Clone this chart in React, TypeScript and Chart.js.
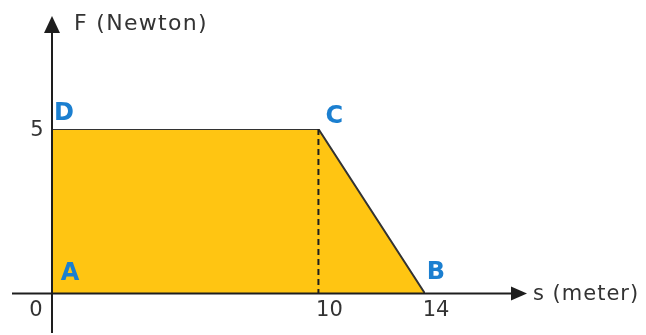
import React, { useEffect, useRef } from "react";
import { Chart, registerables } from "chart.js";

Chart.register(...registerables);

const sValues = [0, 0, 10, 14];
const fValues = [0, 5, 5, 0];
const pointNames = ["A", "D", "C", "B"];
const dashX = [10, 10];
const dashY = [5, 0];
const xTicks = [0, 10, 14];
const yTicks = [5];
const xAxisTitle = "s (meter)";
const yAxisTitle = "F (Newton)";

const labelOffsets: Record<string, [number, number]> = {
  A: [18, -20],
  D: [12, -15],
  C: [16, -12],
  B: [11, -21],
};

const axesPlugin = {
  id: "axesPlugin",
  afterDatasetsDraw(chart: any) {
    const ctx = chart.ctx as CanvasRenderingContext2D;
    const xs = chart.scales.x;
    const ys = chart.scales.y;
    const x0 = xs.getPixelForValue(0);
    const y0 = ys.getPixelForValue(0);
    ctx.save();
    ctx.strokeStyle = "#1e1e1e";
    ctx.fillStyle = "#1e1e1e";
    ctx.lineWidth = 2;
    // x axis
    ctx.beginPath();
    ctx.moveTo(12, y0);
    ctx.lineTo(513, y0);
    ctx.stroke();
    ctx.beginPath();
    ctx.moveTo(527, y0);
    ctx.lineTo(511, y0 - 7);
    ctx.lineTo(511, y0 + 7);
    ctx.closePath();
    ctx.fill();
    // y axis
    ctx.beginPath();
    ctx.moveTo(x0, 333);
    ctx.lineTo(x0, 32);
    ctx.stroke();
    ctx.beginPath();
    ctx.moveTo(x0, 16);
    ctx.lineTo(x0 - 8, 33);
    ctx.lineTo(x0 + 8, 33);
    ctx.closePath();
    ctx.fill();

    // titles
    ctx.fillStyle = "#333";
    ctx.textBaseline = "middle";
    ctx.textAlign = "left";
    ctx.font = "22px 'DejaVu Sans'";
    (ctx as any).letterSpacing = "1.3px";
    ctx.fillText(yAxisTitle, 74, 24);
    ctx.font = "21px 'DejaVu Sans'";
    (ctx as any).letterSpacing = "1px";
    ctx.fillText(xAxisTitle, 533, y0 + 1);

    // ticks
    ctx.font = "21px 'DejaVu Sans'";
    (ctx as any).letterSpacing = "0px";
    ctx.textAlign = "center";
    xTicks.forEach((v) => {
      const px = xs.getPixelForValue(v);
      const cx = v === 0 ? px - 16 : px + 11;
      ctx.fillText(String(v), cx, y0 + 17);
    });
    yTicks.forEach((v) => {
      ctx.fillText(String(v), x0 - 15, ys.getPixelForValue(v) + 2);
    });

    // point names
    ctx.fillStyle = "#1b7fd0";
    ctx.font = "bold 24px 'DejaVu Sans'";
    pointNames.forEach((n, i) => {
      const px = xs.getPixelForValue(sValues[i]);
      const py = ys.getPixelForValue(fValues[i]);
      const off = labelOffsets[n];
      ctx.fillText(n, px + off[0], py + off[1]);
    });
    ctx.restore();
  },
};

export default function App() {
  const ref = useRef<HTMLCanvasElement>(null);
  useEffect(() => {
    if (!ref.current) return;
    const chart = new Chart(ref.current, {
      type: "scatter",
      data: {
        datasets: [
          {
            data: dashX.map((x, i) => ({ x, y: dashY[i] })),
            showLine: true,
            borderColor: "#1e1e1e",
            borderWidth: 2,
            borderDash: [6, 4],
            pointRadius: 0,
            fill: false,
          },
          {
            data: sValues.map((x, i) => ({ x, y: fValues[i] })),
            showLine: true,
            borderColor: "#333",
            borderWidth: 2,
            backgroundColor: "#FFC512",
            pointRadius: 0,
            fill: "origin",
          },
        ],
      },
      options: {
        animation: false,
        responsive: false,
        layout: { padding: { left: 52, right: 221, top: 129, bottom: 41.5 } },
        plugins: { legend: { display: false }, tooltip: { enabled: false } },
        scales: {
          x: { type: "linear", min: 0, max: 14, display: false },
          y: { type: "linear", min: 0, max: 5, display: false },
        },
      },
      plugins: [axesPlugin],
    });
    return () => chart.destroy();
  }, []);
  return (
    <div style={{ position: "fixed", left: 0, top: 0, width: 646, height: 335, background: "#fff" }}>
      <canvas ref={ref} width={646} height={335} style={{ display: "block" }} />
    </div>
  );
}
